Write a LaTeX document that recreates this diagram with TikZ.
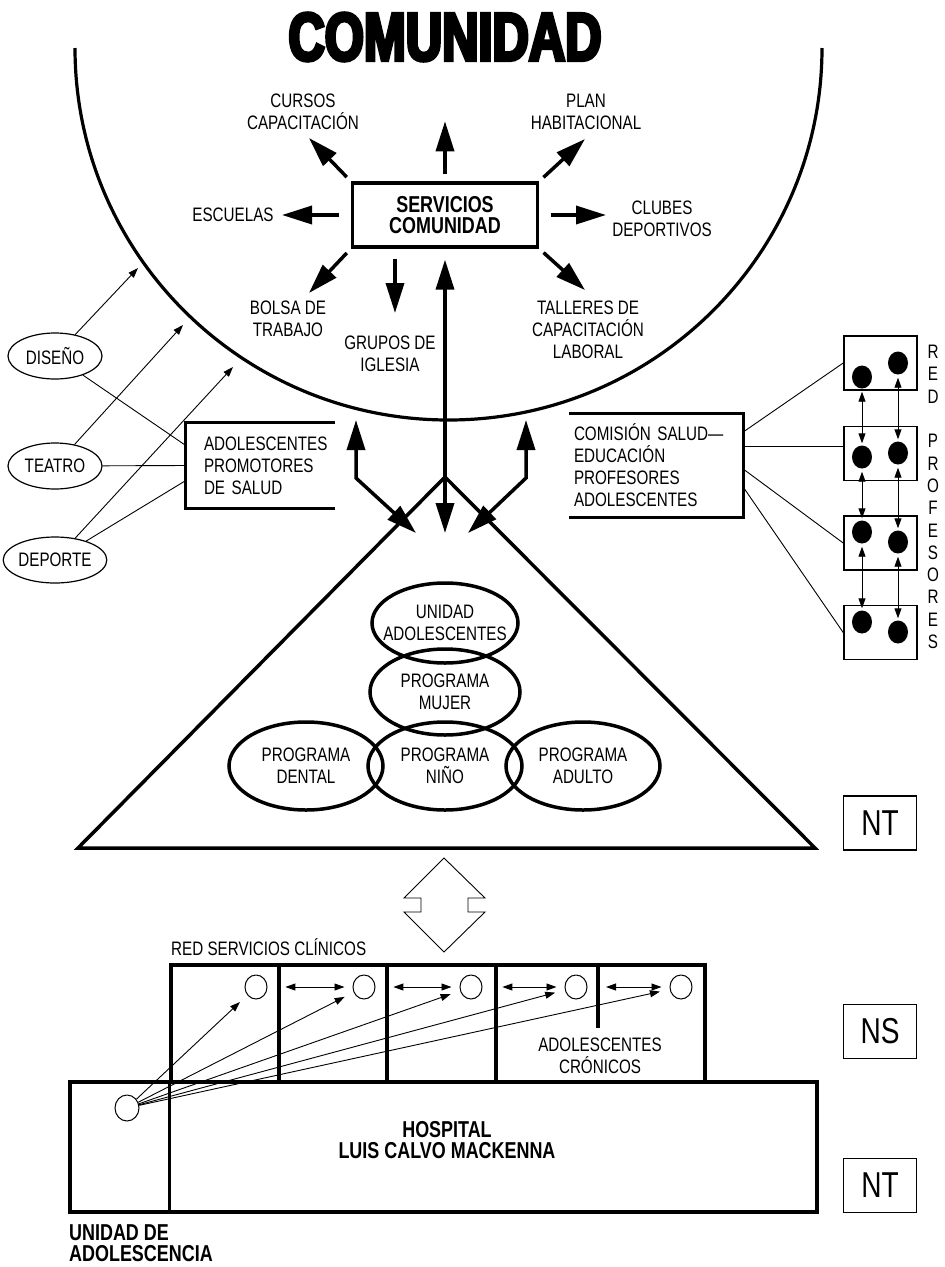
\documentclass[tikz,border=0pt]{standalone}
\usepackage{fontspec}
\setmainfont{Liberation Sans}[FakeStretch=0.78]
\newfontfamily\titlefont{Liberation Sans}[FakeStretch=0.74,BoldFeatures={FakeBold=5}]
\usetikzlibrary{arrows.meta,shapes.geometric}

\begin{document}
\begin{tikzpicture}[x=1pt, y=-1pt,
    txt/.style={font=\fontsize{19.5}{22}\selectfont, align=center, inner sep=0pt},
    btxt/.style={font=\fontsize{23}{21.7}\selectfont\bfseries, align=center, inner sep=0pt},
    heavy/.style={line width=3.2pt},
    bigarrow/.style={line width=3.5pt, -{Triangle[length=30pt,width=18pt]}},
    bigboth/.style={line width=3.5pt, {Triangle[length=30pt,width=18pt]}-{Triangle[length=30pt,width=18pt]}},
    thinarrow/.style={line width=0.9pt, -{Triangle[length=10pt,width=7pt]}},
    thinboth/.style={line width=0.9pt, {Triangle[length=10pt,width=7pt]}-{Triangle[length=10pt,width=7pt]}},
    thinline/.style={line width=0.9pt},
    activity/.style={ellipse, draw, line width=1.2pt, minimum width=94pt, minimum height=46pt, txt},
    programa/.style={ellipse, draw, line width=3.5pt, inner sep=0pt},
    netbox/.style={draw, line width=1.6pt, minimum width=73pt, minimum height=54pt},
    level/.style={netbox, font=\fontsize{36}{36}\selectfont},
    dot/.style={ellipse, fill, minimum width=20pt, minimum height=23pt, inner sep=0pt},
    sdot/.style={ellipse, draw, line width=1pt, minimum width=22pt, minimum height=24pt, inner sep=0pt},
    cell/.style={draw, line width=3.2pt, minimum height=117pt, inner sep=0pt}
]
    \useasboundingbox (0,0) rectangle (945,1267);

    \node[font={\titlefont\bfseries\fontsize{68}{68}\selectfont}, inner sep=0pt] (title) at (445,37) {COMUNIDAD};
    \draw[heavy] (75,48) arc[start angle=180, end angle=360, x radius=373.5pt, y radius=372pt];

    % servicios de la comunidad
    \node[draw, heavy, btxt, minimum width=185pt, minimum height=64pt] (serv) at (445,215) {SERVICIOS\\COMUNIDAD};
    \node[txt] (cursos) at (303,112) {CURSOS\\CAPACITACIÓN};
    \node[txt] (plan) at (586,112) {PLAN\\HABITACIONAL};
    \node[txt] (escuelas) at (233,215) {ESCUELAS};
    \node[txt] (clubes) at (662,219) {CLUBES\\DEPORTIVOS};
    \node[txt] (bolsa) at (288,319) {BOLSA DE\\TRABAJO};
    \node[txt] (grupos) at (390,354) {GRUPOS DE\\IGLESIA};
    \node[txt] (talleres) at (588,330) {TALLERES DE\\CAPACITACIÓN\\LABORAL};
    \coordinate (t-nw) at (309,138);
    \coordinate (t-ne) at (585,139);
    \coordinate (t-w) at (282,215);
    \coordinate (t-e) at (606,215);
    \coordinate (t-sw) at (309,293);
    \coordinate (t-s) at (395,313);
    \coordinate (t-se) at (585,290);
    \draw[bigarrow, shorten <=7pt, shorten >=60pt] (serv) -- (title);
    \draw[bigarrow, shorten <=6pt] (serv.north west) -- (t-nw);
    \draw[bigarrow, shorten <=6pt] (serv.north east) -- (t-ne);
    \draw[bigarrow, shorten <=12pt] (serv.west) -- (t-w);
    \draw[bigarrow, shorten <=12pt] (serv.east) -- (t-e);
    \draw[bigarrow, shorten <=6pt] (serv.south west) -- (t-sw);
    \draw[bigarrow, shorten <=10pt] (t-s |- serv.south) -- (t-s);
    \draw[bigarrow, shorten <=6pt] (serv.south east) -- (t-se);

    % consultorio
    \coordinate (apex) at (445,477);
    \coordinate (longtip) at (445,533);
    \coordinate (lbtop) at (356,420);
    \coordinate (lbbend) at (356,478);
    \coordinate (lbtip) at (416,533);
    \coordinate (rbtop) at (526,420);
    \coordinate (rbbend) at (526,478);
    \coordinate (rbtip) at (468,533);
    \draw[line width=3.5pt] (apex) -- (78,848) -- (815,848) -- cycle;
    \draw[bigboth, shorten <=11pt] (serv.south) -- (longtip);
    \draw[bigboth] (lbtop) -- (lbbend) -- (lbtip);
    \draw[bigboth] (rbtop) -- (rbbend) -- (rbtip);
    \node[programa, minimum width=146pt, minimum height=80pt, label={[txt]center:{UNIDAD\\ADOLESCENTES}}] (unidad) at (445,623) {};
    \node[programa, minimum width=150pt, minimum height=86pt, label={[txt]center:{PROGRAMA\\MUJER}}] (mujer) at (445,692) {};
    \node[programa, minimum width=154pt, minimum height=88pt, label={[txt]center:{PROGRAMA\\DENTAL}}] (dental) at (306,766) {};
    \node[programa, minimum width=154pt, minimum height=88pt, label={[txt]center:{PROGRAMA\\NIÑO}}] (nino) at (445,766) {};
    \node[programa, minimum width=154pt, minimum height=88pt, label={[txt]center:{PROGRAMA\\ADULTO}}] (adulto) at (583,766) {};

    % adolescentes promotores
    \coordinate (a1) at (138,268);
    \coordinate (a2) at (183,325);
    \coordinate (a3) at (233,367);
    \node[activity] (diseno) at (55,356) {DISEÑO};
    \node[activity] (teatro) at (55,466) {TEATRO};
    \node[activity] (deporte) at (55,560) {DEPORTE};
    \node[txt, align=left, text width=131pt, minimum height=85pt] (promo) at (269.5,465.5) {ADOLESCENTES\\PROMOTORES\\DE SALUD};
    \draw[heavy] (promo.north east) -- ([xshift=-18pt]promo.north west) -- ([xshift=-18pt]promo.south west) -- (promo.south east);
    \draw[thinarrow] (diseno) -- (a1);
    \draw[thinarrow] (teatro) -- (a2);
    \draw[thinarrow] (deporte) -- (a3);
    \draw[thinline] (diseno) -- ([shift={(-18pt,20pt)}]promo.west);
    \draw[thinline] (teatro) -- ([xshift=-18pt]promo.west);
    \draw[thinline] (deporte) -- ([shift={(-18pt,-15pt)}]promo.west);

    % red de profesores
    \node[txt, align=left, text width=169pt, minimum height=103pt] (comision) at (658.5,465.5) {COMISIÓN SALUD—\\EDUCACIÓN\\PROFESORES\\ADOLESCENTES};
    \draw[heavy] ([xshift=-5pt]comision.north west) -- (comision.north east) -- (comision.south east) -- ([xshift=-5pt]comision.south west);
    \node[netbox] (red1) at (880.5,363) {};
    \node[netbox] (red2) at (880.5,453.5) {};
    \node[netbox] (red3) at (880.5,543) {};
    \node[netbox] (red4) at (880.5,632.5) {};
    \node[dot] (p1a) at (862,377) {};
    \node[dot] (p1b) at (898,363) {};
    \node[dot] (p2a) at (862,457) {};
    \node[dot] (p2b) at (898,453) {};
    \node[dot] (p3a) at (862,532) {};
    \node[dot] (p3b) at (898,542) {};
    \node[dot] (p4a) at (862,622) {};
    \node[dot] (p4b) at (898,632) {};
    \draw[thinboth, shorten <=3pt, shorten >=2pt] (p1a) -- (p2a);
    \draw[thinboth, shorten <=3pt, shorten >=2pt] (p1b) -- (p2b);
    \draw[thinboth, shorten <=3pt, shorten >=2pt] (p2a) -- (p3a);
    \draw[thinboth, shorten <=3pt, shorten >=2pt] (p2b) -- (p3b);
    \draw[thinboth, shorten <=3pt, shorten >=2pt] (p3a) -- (p4a);
    \draw[thinboth, shorten <=3pt, shorten >=2pt] (p3b) -- (p4b);
    \draw[thinline] ([yshift=33.5pt]comision.east) -- (red1.west);
    \draw[thinline] ([yshift=19.5pt]comision.east) -- ([yshift=7.5pt]red2.west);
    \draw[thinline] ([yshift=-3.5pt]comision.east) -- (red3.west);
    \draw[thinline] ([yshift=-21.5pt]comision.east) -- (red4.west);
    \node[txt, font=\fontsize{19.5}{22.3}\selectfont] (redprof) at (933,497) {R\\E\\D\\[22.3pt]P\\R\\O\\F\\E\\S\\O\\R\\E\\S};

    % niveles
    \node[level] (nt1) at (880,823) {NT};
    \node[level] (ns) at (880,1031.5) {NS};
    \node[level] (nt2) at (880,1185.5) {NT};
    \draw[line width=0.9pt] (444,858) -- (485,898) -- (468,898) -- (468,912) -- (485,912) -- (444,952) -- (404,912) -- (421,912) -- (421,898) -- (404,898) -- cycle;

    % hospital
    \node[txt, anchor=base west] (redserv) at (171,955) {RED SERVICIOS CLÍNICOS};
    \node[cell, minimum width=108pt] (cell1) at (225,1023.5) {};
    \node[cell, minimum width=108pt] (cell2) at (333,1023.5) {};
    \node[cell, minimum width=109pt] (cell3) at (441.5,1023.5) {};
    \node[cell, minimum width=209pt] (cell4) at (600.5,1023.5) {};
    \coordinate (stub) at (598,1028);
    \draw[heavy] (stub |- cell4.north) -- (stub);
    \node[txt] (cron) at (600,1056) {ADOLESCENTES\\CRÓNICOS};
    \node[sdot] (s1) at (256,987) {};
    \node[sdot] (s2) at (364,987) {};
    \node[sdot] (s3) at (471,987) {};
    \node[sdot] (s4) at (576,987) {};
    \node[sdot] (s5) at (681,987) {};
    \draw[thinboth, shorten <=8pt, shorten >=8pt] (cell2.west |- s2) -- (s2);
    \draw[thinboth, shorten <=8pt, shorten >=8pt] (cell3.west |- s3) -- (s3);
    \draw[thinboth, shorten <=8pt, shorten >=8pt] (cell4.west |- s4) -- (s4);
    \draw[thinboth, shorten <=8pt, shorten >=8pt] (stub |- s5) -- (s5);
    \node[draw, heavy, minimum width=747pt, minimum height=130pt] (hosp) at (443.5,1147) {};
    \node[btxt] (hosptxt) at (447,1140) {HOSPITAL\\LUIS CALVO MACKENNA};
    \draw[heavy] (cell1.south west) -- (cell1.south west |- hosp.south);
    \node[sdot, minimum width=24pt, minimum height=26pt] (adol) at (127,1108) {};
    \draw[thinarrow, shorten >=10pt] (adol) -- (s1);
    \draw[thinarrow, shorten >=10pt] (adol) -- (s2);
    \draw[thinarrow, shorten >=10pt] (adol) -- (s3);
    \draw[thinarrow, shorten >=10pt] (adol) -- (s4);
    \draw[thinarrow, shorten >=10pt] (adol) -- (s5);
    \node[btxt, align=left, anchor=north west] (unidadlbl) at (69,1224) {UNIDAD DE\\ADOLESCENCIA};
\end{tikzpicture}
\end{document}
